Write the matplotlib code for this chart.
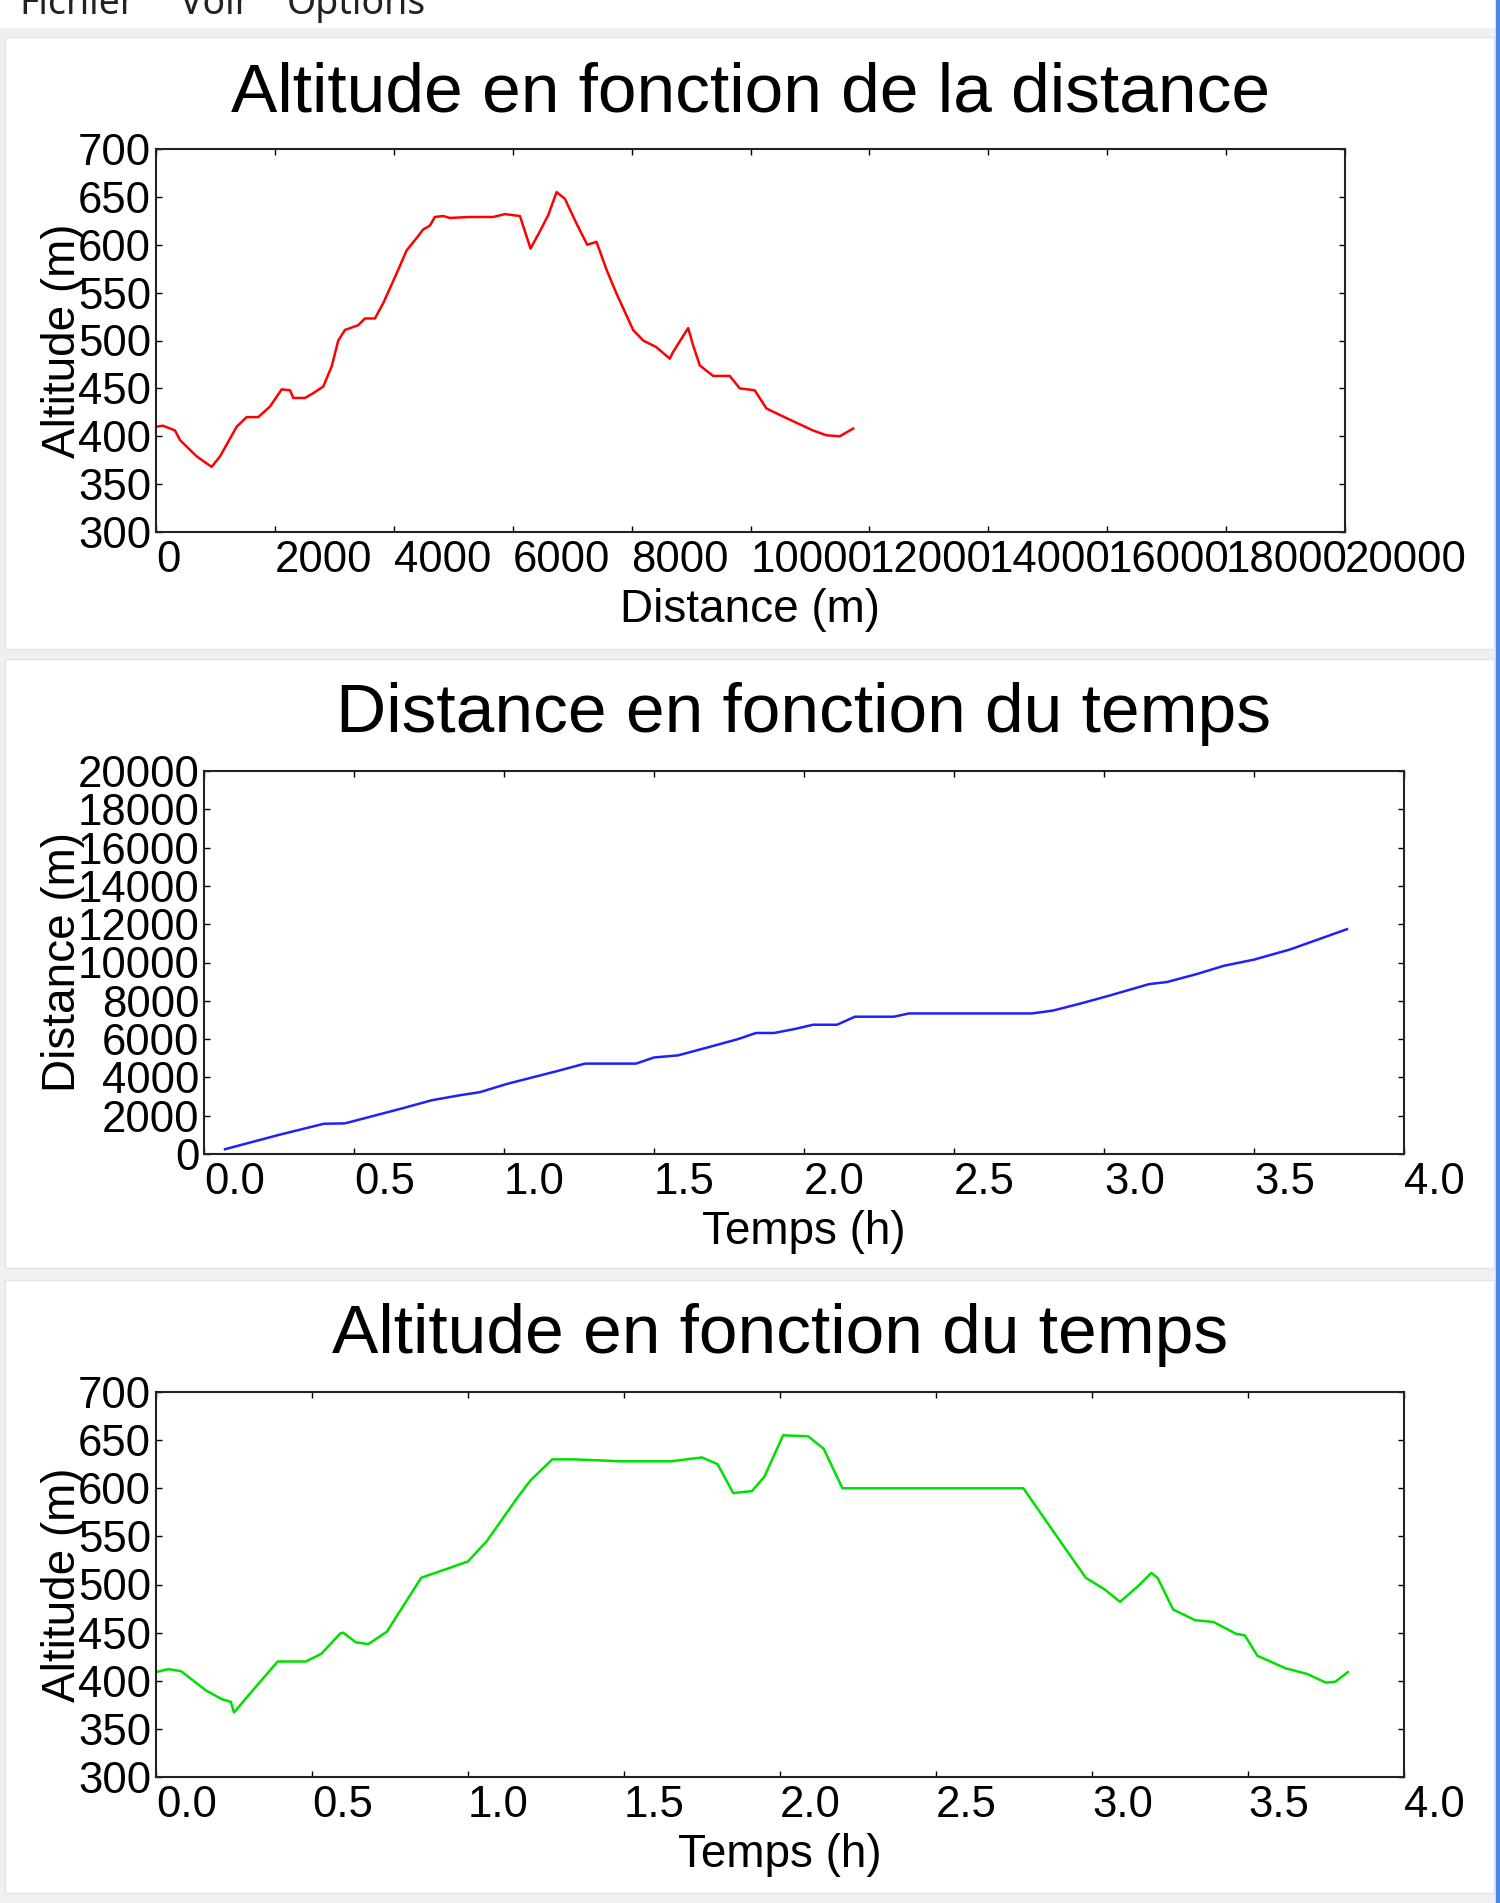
"""
Recreates the GPS track window: altitude vs distance, distance vs time, altitude vs time.
"""

import matplotlib.pyplot as plt
from matplotlib.patches import Rectangle
from matplotlib.transforms import blended_transform_factory

W, H = 1500, 1903

# Altitude (m) along the track distance (m)
dist_profile = [0, 118, 320, 404, 684, 936, 1077, 1357, 1525, 1720, 1917, 2114, 2254, 2310,
                2506, 2646, 2814, 2955, 3066, 3178, 3402, 3514, 3682, 3822, 4047, 4215, 4383,
                4495, 4607, 4691, 4832, 4944, 5280, 5672, 5869, 6122, 6300, 6440, 6598, 6738,
                6878, 7074, 7254, 7410, 7578, 7746, 8026, 8194, 8418, 8642, 8698, 8951, 9035,
                9147, 9371, 9651, 9819, 10071, 10268, 10604, 11053, 11277, 11502, 11726]
alt_profile = [410, 411, 406, 396, 379, 368, 379, 410, 420, 420, 431, 449, 448, 440,
               440, 445, 452, 473, 500, 511, 516, 523, 523, 539, 570, 594, 607,
               616, 620, 629, 630, 628, 629, 629, 632, 630, 596, 612, 631, 655,
               648, 622, 600, 603, 574, 549, 511, 500, 493, 481, 488, 513, 495,
               474, 463, 463, 450, 448, 429, 419, 406, 401, 400, 408]

# Distance (m) against time (h)
time_dist = [0.07, 0.25, 0.40, 0.47, 0.66, 0.76, 0.85, 0.92, 1.01, 1.17, 1.27, 1.44,
             1.50, 1.58, 1.68, 1.78, 1.84, 1.90, 1.97, 2.03, 2.11, 2.17, 2.30, 2.35, 2.76,
             2.83, 2.92, 3.02, 3.15, 3.21, 3.31, 3.40, 3.50, 3.62, 3.81]
dist_time = [250, 1000, 1580, 1600, 2380, 2810, 3060, 3230, 3660, 4300, 4720, 4720,
             5040, 5150, 5570, 6000, 6320, 6320, 6530, 6750, 6750, 7170, 7170, 7340, 7340,
             7490, 7850, 8280, 8870, 8980, 9400, 9830, 10150, 10680, 11740]

# Altitude (m) against time (h)
time_alt = [0.0, 0.04, 0.08, 0.16, 0.21, 0.24, 0.25, 0.31, 0.39, 0.48, 0.53, 0.59, 0.60,
            0.64, 0.68, 0.74, 0.85, 0.93, 1.00, 1.06, 1.16, 1.20, 1.27, 1.34, 1.49, 1.65,
            1.75, 1.80, 1.85, 1.91, 1.95, 2.01, 2.09, 2.14, 2.20, 2.26, 2.72, 2.78, 2.87,
            2.98, 3.04, 3.09, 3.15, 3.19, 3.21, 3.26, 3.33, 3.39, 3.46, 3.49, 3.53, 3.62,
            3.69, 3.75, 3.78, 3.82]
alt_time = [409, 412, 410, 390, 381, 378, 367, 390, 420, 420, 428, 449, 450,
            440, 438, 451, 507, 516, 524, 545, 591, 608, 630, 630, 628, 628,
            632, 625, 595, 597, 612, 655, 654, 641, 600, 600, 600, 600, 558,
            507, 495, 482, 499, 512, 507, 474, 463, 461, 449, 447, 426, 413,
            407, 398, 399, 409]

dist_ticks = list(range(0, 20001, 2000))
alt_ticks = list(range(300, 701, 50))
time_ticks = [0.0, 0.5, 1.0, 1.5, 2.0, 2.5, 3.0, 3.5, 4.0]

menu_items = ["Fichier", "Voir", "Options"]
menu_x = [19, 180, 287]

plt.rcParams["font.family"] = ["Liberation Sans", "DejaVu Sans"]


def box(left, top, right, bottom):
    """Pixel box (from top-left) -> figure fraction [l, b, w, h]."""
    return [left / W, 1 - bottom / H, (right - left) / W, (bottom - top) / H]


fig = plt.figure(figsize=(W / 100, H / 100), dpi=100, facecolor="#f0f0f0")

# window chrome: menu strip, white panels, blue border
def add_rect(left, top, right, bottom, color, edge=None):
    l, b, w, h = box(left, top, right, bottom)
    fig.patches.append(Rectangle((l, b), w, h, transform=fig.transFigure,
                                 facecolor=color, edgecolor=edge or color,
                                 linewidth=1, zorder=-10))

add_rect(0, 0, 1496, 27, "#ffffff")
add_rect(5, 37, 1494, 649, "#ffffff", "#e4e4e4")
add_rect(5, 659, 1494, 1268, "#ffffff", "#e4e4e4")
add_rect(5, 1280, 1494, 1893, "#ffffff", "#e4e4e4")
add_rect(1496, 0, 1500, H, "#4a86e8")

# menu bar, cut by the top edge as in the screenshot
for name, x in zip(menu_items, menu_x):
    fig.text(x / W, 1 - 14 / H, name, fontsize=27, family=["Noto Sans", "DejaVu Sans"],
             color="#222222", va="baseline", ha="left")


def setup(ax, xticks, xfmt, yticks, yfmt, xlim, ylim, title, tpad, xlabel, ylabel):
    ax.set_xlim(xlim)
    ax.set_ylim(ylim)
    ax.set_xticks(xticks)
    ax.set_xticklabels([xfmt.format(v) for v in xticks], ha="left")
    ax.set_yticks(yticks)
    ax.set_yticklabels([yfmt.format(v) for v in yticks])
    ax.tick_params(direction="in", top=True, right=True, length=4.5, width=1.0,
                   labelsize=31.5)
    ax.tick_params(axis="x", pad=6)
    ax.tick_params(axis="y", pad=3.5)
    for sp in ax.spines.values():
        sp.set_linewidth(1.5)
        sp.set_color("#222222")
    ax.set_title(title, fontsize=50, pad=tpad)
    ax.set_xlabel(xlabel, fontsize=33, labelpad=5)
    ax.set_ylabel(ylabel, fontsize=33)
    ax.yaxis.set_label_coords(85 / W, 0.5,
                              transform=blended_transform_factory(fig.transFigure, ax.transAxes))


ax1 = fig.add_axes(box(156, 149, 1345, 532))
ax1.plot(dist_profile, alt_profile, color="#ff0000", linewidth=1.8)
setup(ax1, dist_ticks, "{:d}", alt_ticks, "{:d}", (0, 20000), (300, 700),
      "Altitude en fonction de la distance", 27, "Distance (m)", "Altitude (m)")

ax2 = fig.add_axes(box(204, 771, 1404, 1154))
ax2.plot(time_dist, dist_time, color="#2020ff", linewidth=1.8)
setup(ax2, time_ticks, "{:.1f}", dist_ticks, "{:d}", (0, 4), (0, 20000),
      "Distance en fonction du temps", 28, "Temps (h)", "Distance (m)")

ax3 = fig.add_axes(box(156, 1392, 1404, 1777))
ax3.plot(time_alt, alt_time, color="#00e000", linewidth=1.8)
setup(ax3, time_ticks, "{:.1f}", alt_ticks, "{:d}", (0, 4), (300, 700),
      "Altitude en fonction du temps", 28, "Temps (h)", "Altitude (m)")

fig.savefig("out.png", dpi=100, facecolor=fig.get_facecolor())
